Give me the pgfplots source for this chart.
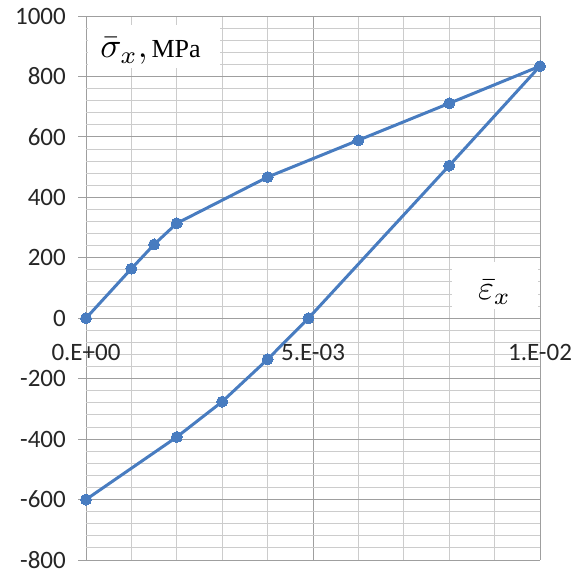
\documentclass[border=0pt]{standalone}
\usepackage{pgfplots}
\pgfplotsset{compat=1.18}
\usepackage{fontspec}
\setmainfont{Carlito}
\newfontfamily\serifmpa{Liberation Serif}
\definecolor{lineblue}{RGB}{72,124,192}
\begin{document}
\begin{tikzpicture}
\begin{axis}[
 scale only axis, width=454pt, height=544pt,
 xmin=0, xmax=0.01, ymin=-800, ymax=1000,
 xtick={0,0.005,0.01}, minor x tick num=4,
 ytick={-800,-600,...,1000}, minor y tick num=4,
 grid=both,
 major grid style={draw=gray!75, line width=0.8pt},
 minor grid style={draw=gray!40, line width=0.9pt},
 axis line style={draw=none},
 xticklabels={}, scaled x ticks=false, scaled y ticks=false,
 xtick style={draw=none}, minor tick style={draw=none}, minor tick length=0pt,
 ytick style={draw=gray!75, line width=0.8pt},
 tick align=outside, major tick length=8pt, tick pos=left,
 yticklabel style={font=\fontsize{25}{30}\selectfont, text=black!85, inner sep=0pt, xshift=-12pt},
 /pgf/number format/assume math mode=true,
 /pgf/number format/1000 sep={},
 clip=false,
]
\addplot[lineblue, line width=3pt, line join=round, mark=*, mark size=5.5pt,
  mark options={fill=lineblue, draw=lineblue, line width=0pt}] coordinates {
(0,0)(0.001,164)(0.0015,244)(0.002,314)(0.004,467)(0.006,589)(0.008,711)(0.01,834)
(0.008,505)(0.0049,0)(0.004,-136)(0.003,-276)(0.002,-393)(0,-600)};
\fill[white] (axis cs:0.00005,827) rectangle (axis cs:0.00295,970);
\fill[white] (axis cs:0.00807,30) rectangle (axis cs:0.00995,185);
\node[anchor=base west, inner sep=0pt] at (axis cs:0.00031,861)
  {\scalebox{3.5}{$\bar{\sigma}_x,$}\hspace{4pt}\fontsize{26}{30}\serifmpa MPa};
\node[anchor=base west, inner sep=0pt] at (axis cs:0.00863,62)
  {\scalebox{3.4}{$\bar{\varepsilon}_x$}};
\node[font=\fontsize{25}{30}\selectfont, text=black!85] at (axis cs:0,-113) {0.E+00};
\node[font=\fontsize{25}{30}\selectfont, text=black!85] at (axis cs:0.005,-113) {5.E-03};
\node[font=\fontsize{25}{30}\selectfont, text=black!85] at (axis cs:0.01,-113) {1.E-02};
\coordinate (bbll) at (rel axis cs:0,0);
\coordinate (bbur) at (rel axis cs:1,1);
\end{axis}
\pgfresetboundingbox
\path ([shift={(-86pt,-14pt)}]bbll) rectangle ([shift={(37pt,16pt)}]bbur);
\end{tikzpicture}
\end{document}
